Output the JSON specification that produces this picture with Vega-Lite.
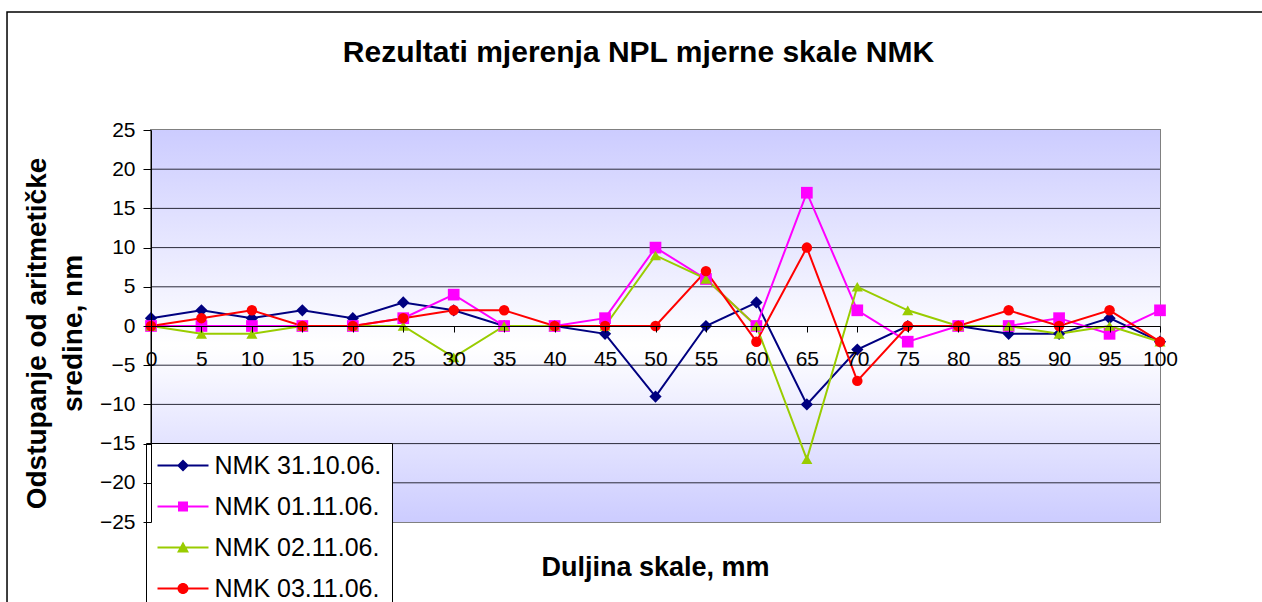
{
  "$schema": "https://vega.github.io/schema/vega-lite/v6.json",
  "width": 1009,
  "height": 392,
  "autosize": {"type": "none"},
  "padding": {"left": 151, "top": 130, "right": 102, "bottom": 80},
  "background": "white",
  "config": {
    "font": "Liberation Sans",
    "view": {"stroke": "#808080", "strokeWidth": 2},
    "axisX": {
      "offset": -196,
      "grid": false,
      "domainColor": "black",
      "domainWidth": 1,
      "tickColor": "black",
      "tickSize": 6,
      "labelFontSize": 21,
      "labelColor": "black",
      "labelPadding": 16,
      "labelFlush": false,
      "labelOverlap": false,
      "titleFontSize": 27,
      "titleFontWeight": "bold",
      "titleColor": "black",
      "titleX": 504,
      "titleY": 241,
      "titleAlign": "center",
      "titleBaseline": "middle"
    },
    "axisY": {
      "grid": false,
      "domainColor": "black",
      "domainWidth": 1,
      "tickColor": "black",
      "tickSize": 8,
      "labelFontSize": 21,
      "labelColor": "black",
      "labelPadding": 8,
      "labelFlush": false,
      "labelOverlap": false,
      "titleFontSize": 28,
      "titleFontWeight": "bold",
      "titleColor": "black",
      "titleLineHeight": 36,
      "titleAngle": 270,
      "titleX": -114,
      "titleY": 203,
      "titleAlign": "center",
      "titleBaseline": "middle"
    }
  },
  "title": {
    "text": "Rezultati mjerenja NPL mjerne skale NMK",
    "font": "Liberation Sans",
    "fontSize": 30,
    "fontWeight": "bold",
    "color": "black",
    "anchor": "middle",
    "frame": "group",
    "offset": -57,
    "dx": -17
  },
  "layer": [
    {
      "data": {"values": [{"k": 1}]},
      "mark": {
        "type": "rect",
        "fill": {
          "gradient": "linear",
          "x1": 0, "y1": 0, "x2": 0, "y2": 1,
          "stops": [
            {"offset": 0, "color": "#ccccff"},
            {"offset": 0.55, "color": "#ffffff"},
            {"offset": 1, "color": "#ccccff"}
          ]
        }
      },
      "encoding": {}
    },
    {
      "data": {"values": [{"g": 20}, {"g": 15}, {"g": 10}, {"g": 5}, {"g": -5}, {"g": -10}, {"g": -15}, {"g": -20}]},
      "mark": {"type": "rule", "color": "#2a2a3a", "strokeWidth": 1},
      "encoding": {
        "y": {
          "field": "g", "type": "quantitative",
          "scale": {"domain": [-25, 25], "nice": false},
          "axis": {"zindex": 1, "values": [-25, -20, -15, -10, -5, 0, 5, 10, 15, 20, 25], "title": ["Odstupanje od aritmetičke", "sredine, nm"]}
        }
      }
    },
    {
      "data": {"values": [{"k": 1}]},
      "mark": {"type": "rect", "fill": null, "stroke": "black", "strokeWidth": 1.5, "clip": false},
      "encoding": {
        "x": {
          "datum": -14.27, "type": "quantitative",
          "scale": {"domain": [0, 100], "nice": false, "zero": false},
          "axis": {"zindex": 1, "values": [0, 5, 10, 15, 20, 25, 30, 35, 40, 45, 50, 55, 60, 65, 70, 75, 80, 85, 90, 95, 100], "title": "Duljina skale, mm"}
        },
        "x2": {"datum": 115},
        "y": {
          "datum": 40.05, "type": "quantitative",
          "axis": {"zindex": 1, "values": [-25, -20, -15, -10, -5, 0, 5, 10, 15, 20, 25], "title": ["Odstupanje od aritmetičke", "sredine, nm"]}
        },
        "y2": {"datum": -40}
      }
    },
    {
      "data": {
        "values": [
          {"x": 0, "v": 1, "s": "NMK 31.10.06."}, {"x": 5, "v": 2, "s": "NMK 31.10.06."}, {"x": 10, "v": 1, "s": "NMK 31.10.06."}, {"x": 15, "v": 2, "s": "NMK 31.10.06."}, {"x": 20, "v": 1, "s": "NMK 31.10.06."}, {"x": 25, "v": 3, "s": "NMK 31.10.06."}, {"x": 30, "v": 2, "s": "NMK 31.10.06."}, {"x": 35, "v": 0, "s": "NMK 31.10.06."}, {"x": 40, "v": 0, "s": "NMK 31.10.06."}, {"x": 45, "v": -1, "s": "NMK 31.10.06."}, {"x": 50, "v": -9, "s": "NMK 31.10.06."}, {"x": 55, "v": 0, "s": "NMK 31.10.06."}, {"x": 60, "v": 3, "s": "NMK 31.10.06."}, {"x": 65, "v": -10, "s": "NMK 31.10.06."}, {"x": 70, "v": -3, "s": "NMK 31.10.06."}, {"x": 75, "v": 0, "s": "NMK 31.10.06."}, {"x": 80, "v": 0, "s": "NMK 31.10.06."}, {"x": 85, "v": -1, "s": "NMK 31.10.06."}, {"x": 90, "v": -1, "s": "NMK 31.10.06."}, {"x": 95, "v": 1, "s": "NMK 31.10.06."}, {"x": 100, "v": -2, "s": "NMK 31.10.06."},
          {"x": 0, "v": 0, "s": "NMK 01.11.06."}, {"x": 5, "v": 0, "s": "NMK 01.11.06."}, {"x": 10, "v": 0, "s": "NMK 01.11.06."}, {"x": 15, "v": 0, "s": "NMK 01.11.06."}, {"x": 20, "v": 0, "s": "NMK 01.11.06."}, {"x": 25, "v": 1, "s": "NMK 01.11.06."}, {"x": 30, "v": 4, "s": "NMK 01.11.06."}, {"x": 35, "v": 0, "s": "NMK 01.11.06."}, {"x": 40, "v": 0, "s": "NMK 01.11.06."}, {"x": 45, "v": 1, "s": "NMK 01.11.06."}, {"x": 50, "v": 10, "s": "NMK 01.11.06."}, {"x": 55, "v": 6, "s": "NMK 01.11.06."}, {"x": 60, "v": 0, "s": "NMK 01.11.06."}, {"x": 65, "v": 17, "s": "NMK 01.11.06."}, {"x": 70, "v": 2, "s": "NMK 01.11.06."}, {"x": 75, "v": -2, "s": "NMK 01.11.06."}, {"x": 80, "v": 0, "s": "NMK 01.11.06."}, {"x": 85, "v": 0, "s": "NMK 01.11.06."}, {"x": 90, "v": 1, "s": "NMK 01.11.06."}, {"x": 95, "v": -1, "s": "NMK 01.11.06."}, {"x": 100, "v": 2, "s": "NMK 01.11.06."},
          {"x": 0, "v": 0, "s": "NMK 02.11.06."}, {"x": 5, "v": -1, "s": "NMK 02.11.06."}, {"x": 10, "v": -1, "s": "NMK 02.11.06."}, {"x": 15, "v": 0, "s": "NMK 02.11.06."}, {"x": 20, "v": 0, "s": "NMK 02.11.06."}, {"x": 25, "v": 0, "s": "NMK 02.11.06."}, {"x": 30, "v": -4, "s": "NMK 02.11.06."}, {"x": 35, "v": 0, "s": "NMK 02.11.06."}, {"x": 40, "v": 0, "s": "NMK 02.11.06."}, {"x": 45, "v": 0, "s": "NMK 02.11.06."}, {"x": 50, "v": 9, "s": "NMK 02.11.06."}, {"x": 55, "v": 6, "s": "NMK 02.11.06."}, {"x": 60, "v": 0, "s": "NMK 02.11.06."}, {"x": 65, "v": -17, "s": "NMK 02.11.06."}, {"x": 70, "v": 5, "s": "NMK 02.11.06."}, {"x": 75, "v": 2, "s": "NMK 02.11.06."}, {"x": 80, "v": 0, "s": "NMK 02.11.06."}, {"x": 85, "v": 0, "s": "NMK 02.11.06."}, {"x": 90, "v": -1, "s": "NMK 02.11.06."}, {"x": 95, "v": 0, "s": "NMK 02.11.06."}, {"x": 100, "v": -2, "s": "NMK 02.11.06."},
          {"x": 0, "v": 0, "s": "NMK 03.11.06."}, {"x": 5, "v": 1, "s": "NMK 03.11.06."}, {"x": 10, "v": 2, "s": "NMK 03.11.06."}, {"x": 15, "v": 0, "s": "NMK 03.11.06."}, {"x": 20, "v": 0, "s": "NMK 03.11.06."}, {"x": 25, "v": 1, "s": "NMK 03.11.06."}, {"x": 30, "v": 2, "s": "NMK 03.11.06."}, {"x": 35, "v": 2, "s": "NMK 03.11.06."}, {"x": 40, "v": 0, "s": "NMK 03.11.06."}, {"x": 45, "v": 0, "s": "NMK 03.11.06."}, {"x": 50, "v": 0, "s": "NMK 03.11.06."}, {"x": 55, "v": 7, "s": "NMK 03.11.06."}, {"x": 60, "v": -2, "s": "NMK 03.11.06."}, {"x": 65, "v": 10, "s": "NMK 03.11.06."}, {"x": 70, "v": -7, "s": "NMK 03.11.06."}, {"x": 75, "v": 0, "s": "NMK 03.11.06."}, {"x": 80, "v": 0, "s": "NMK 03.11.06."}, {"x": 85, "v": 2, "s": "NMK 03.11.06."}, {"x": 90, "v": 0, "s": "NMK 03.11.06."}, {"x": 95, "v": 2, "s": "NMK 03.11.06."}, {"x": 100, "v": -2, "s": "NMK 03.11.06."}
        ]
      },
      "encoding": {
        "x": {
          "field": "x", "type": "quantitative",
          "axis": {"zindex": 1, "values": [0, 5, 10, 15, 20, 25, 30, 35, 40, 45, 50, 55, 60, 65, 70, 75, 80, 85, 90, 95, 100], "title": "Duljina skale, mm"}
        },
        "y": {
          "field": "v", "type": "quantitative",
          "axis": {"zindex": 1, "values": [-25, -20, -15, -10, -5, 0, 5, 10, 15, 20, 25], "title": ["Odstupanje od aritmetičke", "sredine, nm"]}
        }
      },
      "resolve": {"scale": {"shape": "independent", "color": "independent"}},
      "layer": [
        {
          "mark": {"type": "line", "strokeWidth": 2},
          "encoding": {
            "color": {
              "field": "s", "type": "nominal",
              "scale": {
                "domain": ["NMK 31.10.06.", "NMK 01.11.06.", "NMK 02.11.06.", "NMK 03.11.06."],
                "range": ["#000080", "#ff00ff", "#99cc00", "#ff0000"]
              },
              "legend": null
            }
          }
        },
        {
          "mark": {"type": "point", "filled": true, "opacity": 1},
          "encoding": {
            "color": {
              "field": "s", "type": "nominal",
              "scale": {
                "domain": ["NMK 31.10.06.", "NMK 01.11.06.", "NMK 02.11.06.", "NMK 03.11.06."],
                "range": ["#000080", "#ff00ff", "#99cc00", "#ff0000"]
              },
              "legend": null
            },
            "shape": {
              "field": "s", "type": "nominal",
              "scale": {
                "domain": ["NMK 31.10.06.", "NMK 01.11.06.", "NMK 02.11.06.", "NMK 03.11.06."],
                "range": ["diamond", "square", "triangle-up", "circle"]
              },
              "legend": null
            },
            "size": {
              "field": "s", "type": "nominal",
              "scale": {
                "domain": ["NMK 31.10.06.", "NMK 01.11.06.", "NMK 02.11.06.", "NMK 03.11.06."],
                "range": [150, 110, 150, 110]
              },
              "legend": null
            }
          }
        },
        {
          "transform": [{"filter": "false"}],
          "mark": {"type": "point", "filled": true, "opacity": 1, "size": 400},
          "encoding": {
            "color": {
              "field": "s", "type": "nominal",
              "scale": {
                "domain": ["NMK 31.10.06.", "NMK 01.11.06.", "NMK 02.11.06.", "NMK 03.11.06."],
                "range": ["#000080", "#ff00ff", "#99cc00", "#ff0000"]
              },
              "legend": {
                "title": null,
                "orient": "none",
                "legendX": -5,
                "legendY": 313,
                "padding": 10,
                "fillColor": "white",
                "strokeColor": "black",
                "labelFontSize": 25,
                "labelColor": "black",
                "labelFont": "Liberation Sans",
                "labelLimit": 400,
                "symbolSize": 400,
                "symbolOffset": 14.5,
                "labelOffset": 19,
                "rowPadding": 15,
                "symbolStrokeWidth": 0,
                "symbolOpacity": 1
              }
            },
            "shape": {
              "field": "s", "type": "nominal",
              "scale": {
                "domain": ["NMK 31.10.06.", "NMK 01.11.06.", "NMK 02.11.06.", "NMK 03.11.06."],
                "range": [
                  "M-2.55,-0.1H2.55V0.1H-2.55ZM0,-0.6L0.6,0L0,0.6L-0.6,0Z",
                  "M-2.55,-0.1H2.55V0.1H-2.55ZM-0.5,-0.5H0.5V0.5H-0.5Z",
                  "M-2.55,-0.1H2.55V0.1H-2.55ZM0,-0.6L0.6,0.5H-0.6Z",
                  "M-2.55,-0.1H2.55V0.1H-2.55ZM-0.55,0A0.55,0.55 0 1,1 0.55,0A0.55,0.55 0 1,1 -0.55,0Z"
                ]
              },
              "legend": {
                "title": null,
                "orient": "none",
                "legendX": -5,
                "legendY": 313,
                "padding": 10,
                "fillColor": "white",
                "strokeColor": "black",
                "labelFontSize": 25,
                "labelColor": "black",
                "labelFont": "Liberation Sans",
                "labelLimit": 400,
                "symbolSize": 400,
                "symbolOffset": 14.5,
                "labelOffset": 19,
                "rowPadding": 15,
                "symbolStrokeWidth": 0,
                "symbolOpacity": 1
              }
            }
          }
        }
      ]
    }
  ]
}
